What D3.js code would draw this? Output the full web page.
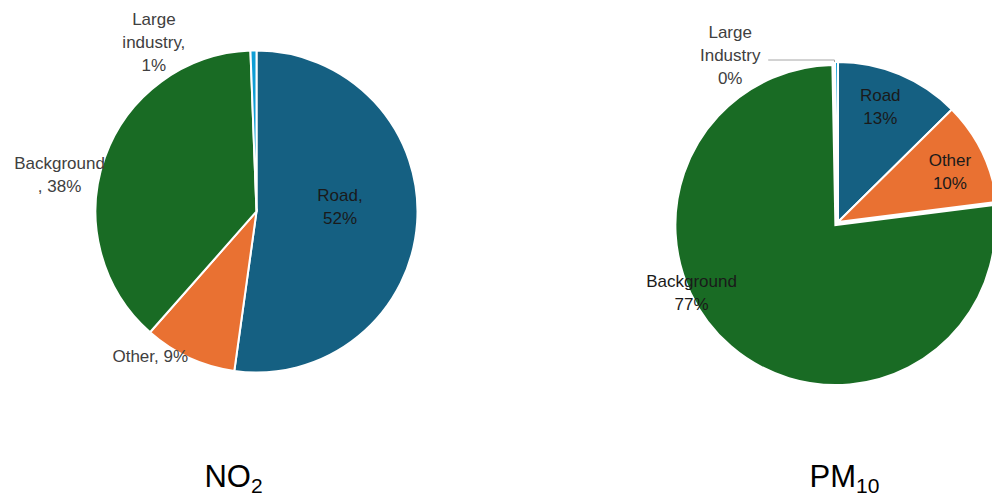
<!DOCTYPE html>
<html lang="en">
<head>
<meta charset="UTF-8">
<title>NO2 and PM10 by source</title>
<script src="https://cdn.jsdelivr.net/npm/d3@7/dist/d3.min.js"></script>
<style>
  body { margin: 0; background: #fff; }
  text { font-family: "Liberation Sans", Arial, sans-serif; }
</style>
</head>
<body>
<script>
    // source shares (%), clockwise from 12 o'clock
    const sources = ['Road', 'Other', 'Background', 'Large industry']
    const no2Values = [52.2, 9.3, 37.9, 0.6]
    const pm10Values = [12.6, 10.4, 76.7, 0.3]
    const no2Labels = [['Road,', '52%'], ['Other, 9%'], ['Background', ', 38%'], ['Large', 'industry,', '1%']]
    const pm10Labels = [['Road', '13%'], ['Other', '10%'], ['Background', '77%'], ['Large', 'Industry', '0%']]
    const colors = ['#156082', '#E97132', '#196B24', '#0F9ED5']

    const [width, height, lineH] = [992, 498, 23]
    const svg = d3.select('body').append('svg')
        .attr('width', width)
        .attr('height', height)

    const pie = d3.pie().sort(null).value(d => d)

    // label placement: [radius factor, dx, dy] from the slice centroid
    const charts = [
        {values: no2Values, labels: no2Labels, cx: 256.5, cy: 211.5, r: 161,
         place: [[0.52, 0, -11], [1.12, -31, -19], [1.2, -15, 28], [1.2, -99, 24]],
         title: 'NO', sub: '2', tx: 233.5, explode: -1, leader: -1},
        {values: pm10Values, labels: pm10Labels, cx: 838, cy: 222, r: 160,
         place: [[0.75, -4, -5], [0.75, 4, 2], [0.75, -68, -20], [1.2, -106, 25]],
         title: 'PM', sub: '10', tx: 844.5, explode: 2, leader: 3}
    ]

    charts.forEach(c => {
        const g = svg.append('g').attr('transform', `translate(${c.cx},${c.cy})`)
        const arcs = pie(c.values)
        const arc = d3.arc().innerRadius(0).outerRadius(c.r)

        g.selectAll('path.slice').data(arcs)
            .enter().append('path')
            .attr('class', 'slice')
            .attr('d', arc)
            .attr('fill', (d, i) => colors[i])
            .attr('stroke', '#fff')
            .attr('stroke-width', 2)
            .attr('transform', (d, i) => {
                if (i !== c.explode) return null
                const a = (d.startAngle + d.endAngle) / 2
                return `translate(${Math.sin(a) * 4},${-Math.cos(a) * 4})`
            })

        const anchors = arcs.map((d, i) => {
            const [k, dx, dy] = c.place[i]
            const p = d3.arc().innerRadius(c.r * k).outerRadius(c.r * k).centroid(d)
            return [p[0] + dx, p[1] + dy]
        })

        if (c.leader >= 0) {
            const i = c.leader
            const edge = d3.arc().innerRadius(c.r).outerRadius(c.r).centroid(arcs[i])
            const a = anchors[i]
            const x0 = a[0] + 38
            const y0 = a[1] + 5
            g.append('path')
                .attr('d', d3.line()([[x0, y0], [edge[0] - 2, y0], [edge[0] - 2, edge[1]]]))
                .attr('fill', 'none')
                .attr('stroke', '#a6a6a6')
                .attr('stroke-width', 1)
        }

        const lbl = g.selectAll('text.lbl').data(arcs)
            .enter().append('text')
            .attr('class', 'lbl')
            .attr('text-anchor', 'middle')
            .attr('font-size', 17)
            .attr('fill', (d, i) => c.place[i][0] < 1 ? '#1a1a1a' : '#404040')
        lbl.each(function (d, i) {
            const lines = c.labels[i]
            const [ax, ay] = anchors[i]
            d3.select(this).selectAll('tspan').data(lines)
                .enter().append('tspan')
                .attr('x', ax)
                .attr('y', (t, j) => ay + (j - (lines.length - 1) / 2) * lineH)
                .attr('dy', '0.35em')
                .text(t => t)
        })

        const title = svg.append('text')
            .attr('x', c.tx)
            .attr('y', 487)
            .attr('text-anchor', 'middle')
            .attr('font-size', 31)
            .attr('fill', '#000')
        title.append('tspan').text(c.title)
        title.append('tspan')
            .attr('font-size', 21)
            .attr('baseline-shift', '-30%')
            .text(c.sub)
    })
</script>
</body>
</html>
